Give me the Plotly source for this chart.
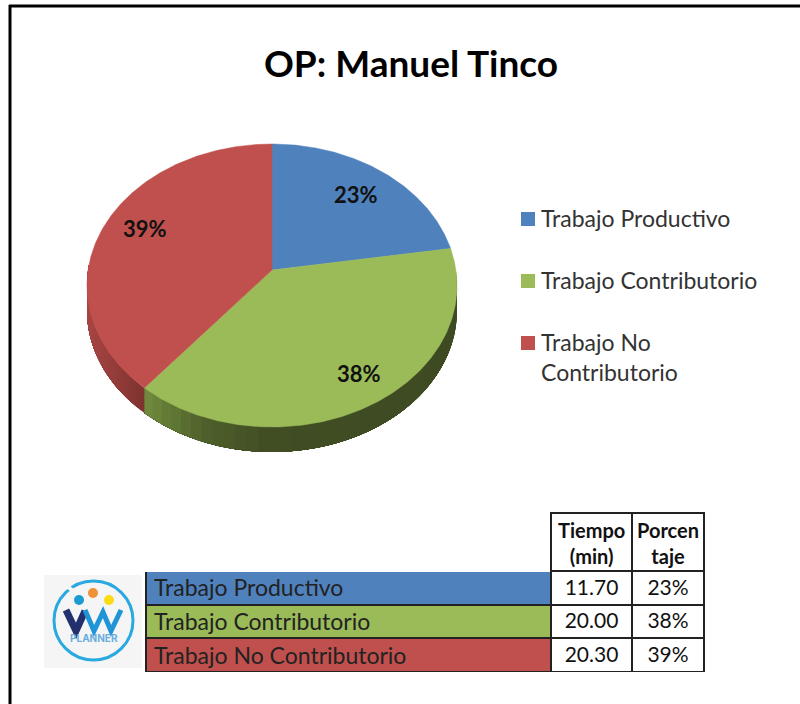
import math
import plotly.graph_objects as go

# ---- data ----
title_text = "OP: Manuel Tinco"
categories = ["Trabajo Productivo", "Trabajo Contributorio", "Trabajo No Contributorio"]
legend_labels = ["Trabajo Productivo", "Trabajo Contributorio", "Trabajo No<br>Contributorio"]
tiempo = [11.70, 20.00, 20.30]
tiempo_labels = ["11.70", "20.00", "20.30"]
pct_labels = ["23%", "38%", "39%"]
colors = ["#4f81bd", "#9bbb59", "#c0504d"]
header_labels = ["<b>Tiempo<br>(min)</b>", "<b>Porcen<br>taje</b>"]

# ---- pie geometry (perspective-tilted disc, screen pixels) ----
APEX_X, APEX_Y = 272, 270
RX, RY, K = 183.9, 139.8, -0.1096
DEPTH = 25
FONT = "Lato"
INK = "#111111"


def project(theta_deg, frac=1.0):
    t = math.radians(theta_deg)
    u, v = math.sin(t) * frac, math.cos(t) * frac
    d = 1 - K * v
    return APEX_X + RX * u / d, APEX_Y - RY * v / d


def lerp_color(stops, x):
    if x <= stops[0][0]:
        return "rgb(%d,%d,%d)" % stops[0][1]
    for (x0, c0), (x1, c1) in zip(stops, stops[1:]):
        if x <= x1:
            f = (x - x0) / (x1 - x0)
            return "rgb(%d,%d,%d)" % tuple(round(c0[i] + (c1[i] - c0[i]) * f) for i in range(3))
    return "rgb(%d,%d,%d)" % stops[-1][1]


total = sum(tiempo)
bounds = [0.0]
for v in tiempo:
    bounds.append(bounds[-1] + 360 * v / total)

side_stops = {
    1: [(146, (112, 138, 62)), (205, (78, 96, 43)), (265, (65, 78, 36)), (460, (62, 74, 34))],
    2: [(87, (168, 70, 68)), (146, (125, 50, 48))],
}

fig = go.Figure()

# side wall: each band runs to the end of its slice and is painted over by the next one
for idx in (1, 2):
    a0v = max(bounds[idx], 90.0)
    a1v = min(bounds[idx + 1], 272.0)
    n = 40
    for s in range(n):
        t0 = a0v + (a1v - a0v) * s / n
        arc = [project(t0 + (a1v - t0) * j / 24) for j in range(25)]
        band_x = (project(t0)[0] + project(a0v + (a1v - a0v) * (s + 1) / n)[0]) / 2
        col = lerp_color(side_stops[idx], band_x)
        xs = [p[0] for p in arc] + [p[0] for p in reversed(arc)]
        ys = [p[1] for p in arc] + [p[1] + DEPTH for p in reversed(arc)]
        fig.add_trace(go.Scatter(
            x=xs + xs[:1], y=ys + ys[:1],
            mode="lines", fill="toself", fillcolor=col,
            line=dict(width=0, color=col), hoverinfo="skip", showlegend=False))

# top surface
for i, cat in enumerate(categories):
    steps = max(2, int((bounds[i + 1] - bounds[i]) * 2))
    pts = [project(bounds[i] + (bounds[i + 1] - bounds[i]) * s / steps) for s in range(steps + 1)]
    fig.add_trace(go.Scatter(
        x=[APEX_X] + [p[0] for p in pts] + [APEX_X],
        y=[APEX_Y] + [p[1] for p in pts] + [APEX_Y],
        mode="lines", fill="toself", fillcolor=colors[i],
        line=dict(width=0.5, color=colors[i]), name=cat, showlegend=False,
        hoverinfo="name"))

annotations = []

# percent labels, placed along each slice's mid-angle
label_frac = [0.75, 0.80, 0.75]
label_nudge = [(0, 0), (8, -2), (-1, -7)]
for i, lab in enumerate(pct_labels):
    x, y = project((bounds[i] + bounds[i + 1]) / 2, label_frac[i])
    annotations.append(dict(x=x + label_nudge[i][0], y=y + label_nudge[i][1], text="<b>%s</b>" % lab,
                            showarrow=False, xref="x", yref="y",
                            font=dict(family=FONT, size=22, color=INK)))

# legend
legend_y = [219, 281, 343]
fig.add_trace(go.Scatter(
    x=[528] * 3, y=legend_y, mode="markers",
    marker=dict(symbol="square", size=14, color=colors), hoverinfo="skip", showlegend=False))
for lab, y in zip(legend_labels, legend_y):
    annotations.append(dict(x=539, y=y - 17, text=lab, showarrow=False, xref="x", yref="y",
                            xanchor="left", yanchor="top", align="left",
                            font=dict(family=FONT, size=23, color="#333333")))

# table
fig.add_trace(go.Table(
    domain=dict(x=[146 / 800, 704 / 800], y=[1 - 672.5 / 704, 1 - 513 / 704]),
    columnwidth=[405, 81, 72],
    header=dict(values=["", "", ""], height=58,
                fill_color="white", align="center",
                line=dict(color=["white", "#222222", "#222222"], width=2),
                font=dict(family=FONT, size=19, color=INK)),
    cells=dict(values=[categories, tiempo_labels, pct_labels], height=33.7,
               fill_color=[colors, ["white"] * 3, ["white"] * 3],
               align=["left", "center", "center"],
               line=dict(color="#222222", width=2),
               font=dict(family=FONT, size=[23, 21, 21], color=["#222222", INK, INK]))))

for lab, x in zip(header_labels, [591, 668]):
    annotations.append(dict(x=x, y=543, text=lab, showarrow=False, xref="x", yref="y",
                            align="center", font=dict(family=FONT, size=20, color=INK)))

# logo
logo_shapes = [
    dict(type="rect", x0=44, y0=575, x1=142, y1=668, fillcolor="#f5f5f6", line=dict(width=0), layer="below"),
    dict(type="circle", x0=54, y0=581, x1=133, y1=660, line=dict(color="#2aa9e0", width=3), layer="below"),
    dict(type="line", x0=67, y0=586, x1=73, y1=591, line=dict(color="#f5f5f6", width=4), layer="below"),
    dict(type="circle", x0=74, y0=595, x1=84, y1=605, fillcolor="#1b9cd0", line=dict(width=0)),
    dict(type="circle", x0=88, y0=588, x1=98, y1=598, fillcolor="#ef9237", line=dict(width=0)),
    dict(type="circle", x0=104, y0=595, x1=114, y1=605, fillcolor="#fbdc14", line=dict(width=0)),
    dict(type="path", path="M 66 610 L 76 631 L 85 611", line=dict(color="#24306e", width=7)),
    dict(type="path", path="M 85 610 L 94 631 L 103 612 L 111 631 L 121 610", line=dict(color="#1f95d8", width=5)),
]
annotations.append(dict(x=94, y=638, text="<b>PLANNER</b>", showarrow=False, xref="x", yref="y",
                        font=dict(family="Inter", size=10, color="#6aaede")))

# page frame
frame_shapes = [
    dict(type="line", x0=9, y0=6, x1=800, y1=6, line=dict(color="#000000", width=3)),
    dict(type="line", x0=10, y0=5, x1=10, y1=704, line=dict(color="#000000", width=3)),
]

fig.update_layout(
    width=800, height=704, margin=dict(l=0, r=0, t=0, b=0),
    paper_bgcolor="white", plot_bgcolor="white", showlegend=False,
    title=dict(text="<b>%s</b>" % title_text, x=411 / 800, xanchor="center",
               y=1 - 64 / 704, yanchor="middle",
               font=dict(family=FONT, size=37, color="#000000")),
    xaxis=dict(range=[0, 800], visible=False, fixedrange=True),
    yaxis=dict(range=[704, 0], visible=False, fixedrange=True),
    annotations=annotations, shapes=frame_shapes + logo_shapes,
)

fig.write_html("out.html", config=dict(displayModeBar=False),
               post_script="document.body.style.margin='0';document.documentElement.style.overflow='hidden';")
